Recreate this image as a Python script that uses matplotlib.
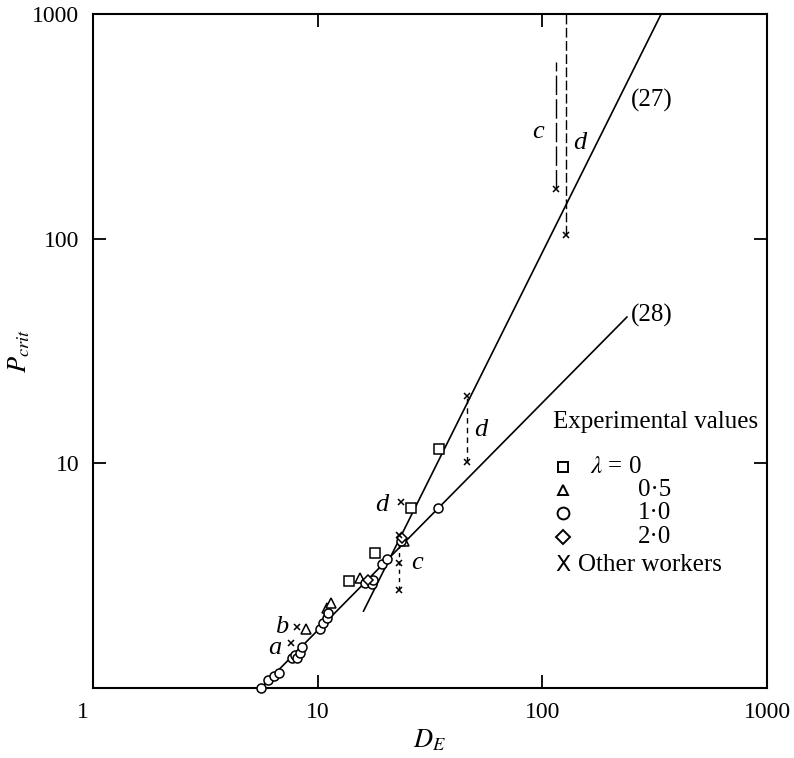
import matplotlib.pyplot as plt
from matplotlib.ticker import FixedLocator, NullLocator
from matplotlib.transforms import ScaledTranslation

plt.rcParams['font.family'] = ['Liberation Serif', 'DejaVu Serif']
plt.rcParams['mathtext.fontset'] = 'stix'

# experimental values, lambda = 0 / 0.5 / 1.0 / 2.0
sq_D = [13.8, 18.0, 26.0, 34.8]
sq_P = [2.99, 4.0, 6.34, 11.6]

tri_D = [8.87, 10.96, 11.5, 15.5, 24.2]
tri_P = [1.84, 2.26, 2.40, 3.08, 4.51]

circ_D = [5.58, 6.03, 6.39, 6.73, 7.66, 7.93, 8.07, 8.34, 8.54, 10.2, 10.6,
          11.0, 11.1, 16.2, 17.4, 17.7, 19.3, 20.4, 23.4, 34.2]
circ_P = [1.0, 1.09, 1.13, 1.17, 1.36, 1.40, 1.36, 1.43, 1.52, 1.84, 1.94,
          2.04, 2.15, 2.92, 2.90, 3.02, 3.56, 3.74, 4.52, 6.31]

dia_D = [16.8, 23.8]
dia_P = [3.02, 4.65]

# other workers
oth_D = [7.61, 8.11, 23.6, 23.0, 23.0, 23.0, 46.0, 46.0, 115, 128]
oth_P = [1.58, 1.86, 6.71, 4.80, 3.59, 2.73, 19.9, 10.1, 166, 104]

# theory lines (27) and (28)
line27_D = [16.0, 338]
line27_P = [2.2, 1000]
line28_D = [5.58, 238]
line28_P = [1.0, 44.8]

# vertical dashed connectors: (D, P_low, P_high)
dashes_c_low = (23.0, 2.73, 4.80)
dashes_d_mid = (46.0, 10.1, 19.9)
dashes_c_top = (115, 166, 611)
dashes_d_top = (128, 104, 1000)

fig = plt.figure(figsize=(7.94, 7.58), dpi=100)
ax = fig.add_axes([0.1171, 0.0923, 0.8489, 0.8892])
ax.set_xscale('log')
ax.set_yscale('log')
ax.set_xlim(1, 1000)
ax.set_ylim(1, 1000)

ax.plot(line27_D, line27_P, color='black', lw=1.2)
ax.plot(line28_D, line28_P, color='black', lw=1.2)

ax.plot([dashes_c_low[0]] * 2, dashes_c_low[1:], color='black', lw=1.0,
        dashes=(3, 3))
ax.plot([dashes_d_mid[0]] * 2, dashes_d_mid[1:], color='black', lw=1.0,
        dashes=(4, 3))
ax.plot([dashes_c_top[0]] * 2, dashes_c_top[1:], color='black', lw=1.0,
        dashes=(14, 3))
ax.plot([dashes_d_top[0]] * 2, dashes_d_top[1:], color='black', lw=1.0,
        dashes=(7, 2.5))

mk = dict(ls='none', mfc='white', mec='black', mew=1.1, ms=6.5, zorder=3,
          clip_on=False)
ax.plot(sq_D, sq_P, marker='s', **mk)
ax.plot(tri_D, tri_P, marker='^', **mk)
ax.plot(circ_D, circ_P, marker='o', **mk)
ax.plot(dia_D, dia_P, marker='D', **{**mk, 'ms': 5.5})
ax.plot(oth_D, oth_P, marker='x', ls='none', color='black', ms=5, mew=1.1,
        zorder=3)

# curve labels
ax.text(307, 414, '(27)', fontsize=18, ha='center', va='center')
ax.text(248, 45.7, '(28)', fontsize=18, ha='left', va='center')
for lab, d, p in [('c', 95.6, 298), ('d', 147, 266), ('d', 53.3, 14.1),
                  ('d', 19.3, 6.52), ('c', 27.7, 3.6), ('b', 6.94, 1.87),
                  ('a', 6.45, 1.51)]:
    ax.text(d, p, lab, fontsize=19, style='italic', ha='center', va='center')

# key
tr = ax.transAxes
ax.text(0.6825, 0.3947, 'Experimental values', transform=tr, fontsize=18,
        va='center')
rows_y = [0.328, 0.294, 0.260, 0.224]
for m, y, s in zip(['s', '^', 'o', 'D'], rows_y, [7.5, 7.5, 8.5, 7]):
    ax.plot([0.697], [y], marker=m, transform=tr, ls='none', mfc='white',
            mec='black', mew=1.4, ms=s)
ax.text(0.738, rows_y[0], r'$\lambda$ = 0', transform=tr, fontsize=18,
        va='center')
for y, lab in zip(rows_y[1:], ['0·5', '1·0', '2·0']):
    ax.text(0.8086, y, lab, transform=tr, fontsize=18, va='center')
ax.text(0.697, 0.1825, 'X', transform=tr, fontsize=16, ha='center',
        va='center', family='DejaVu Sans')
ax.text(0.7196, 0.1825, 'Other workers', transform=tr, fontsize=18,
        va='center')

# axes and ticks
for s in ax.spines.values():
    s.set_linewidth(1.5)
ax.xaxis.set_major_locator(FixedLocator([1, 10, 100, 1000]))
ax.yaxis.set_major_locator(FixedLocator([10, 100, 1000]))
ax.xaxis.set_minor_locator(NullLocator())
ax.yaxis.set_minor_locator(NullLocator())
ax.set_xticklabels(['1', '10', '100', '1000'])
ax.set_yticklabels(['10', '100', '1000'])
ax.tick_params(direction='in', length=9.5, width=1.3, labelsize=17,
               top=True, right=True, pad=10)
first = ax.get_xticklabels()[0]
first.set_transform(first.get_transform()
                    + ScaledTranslation(-0.10, 0, fig.dpi_scale_trans))

ax.set_xlabel(r'$D_E$', fontsize=19, labelpad=3)
ax.set_ylabel(r'$P_{crit}$', fontsize=19, labelpad=0)

fig.savefig('out.png', dpi=100)
